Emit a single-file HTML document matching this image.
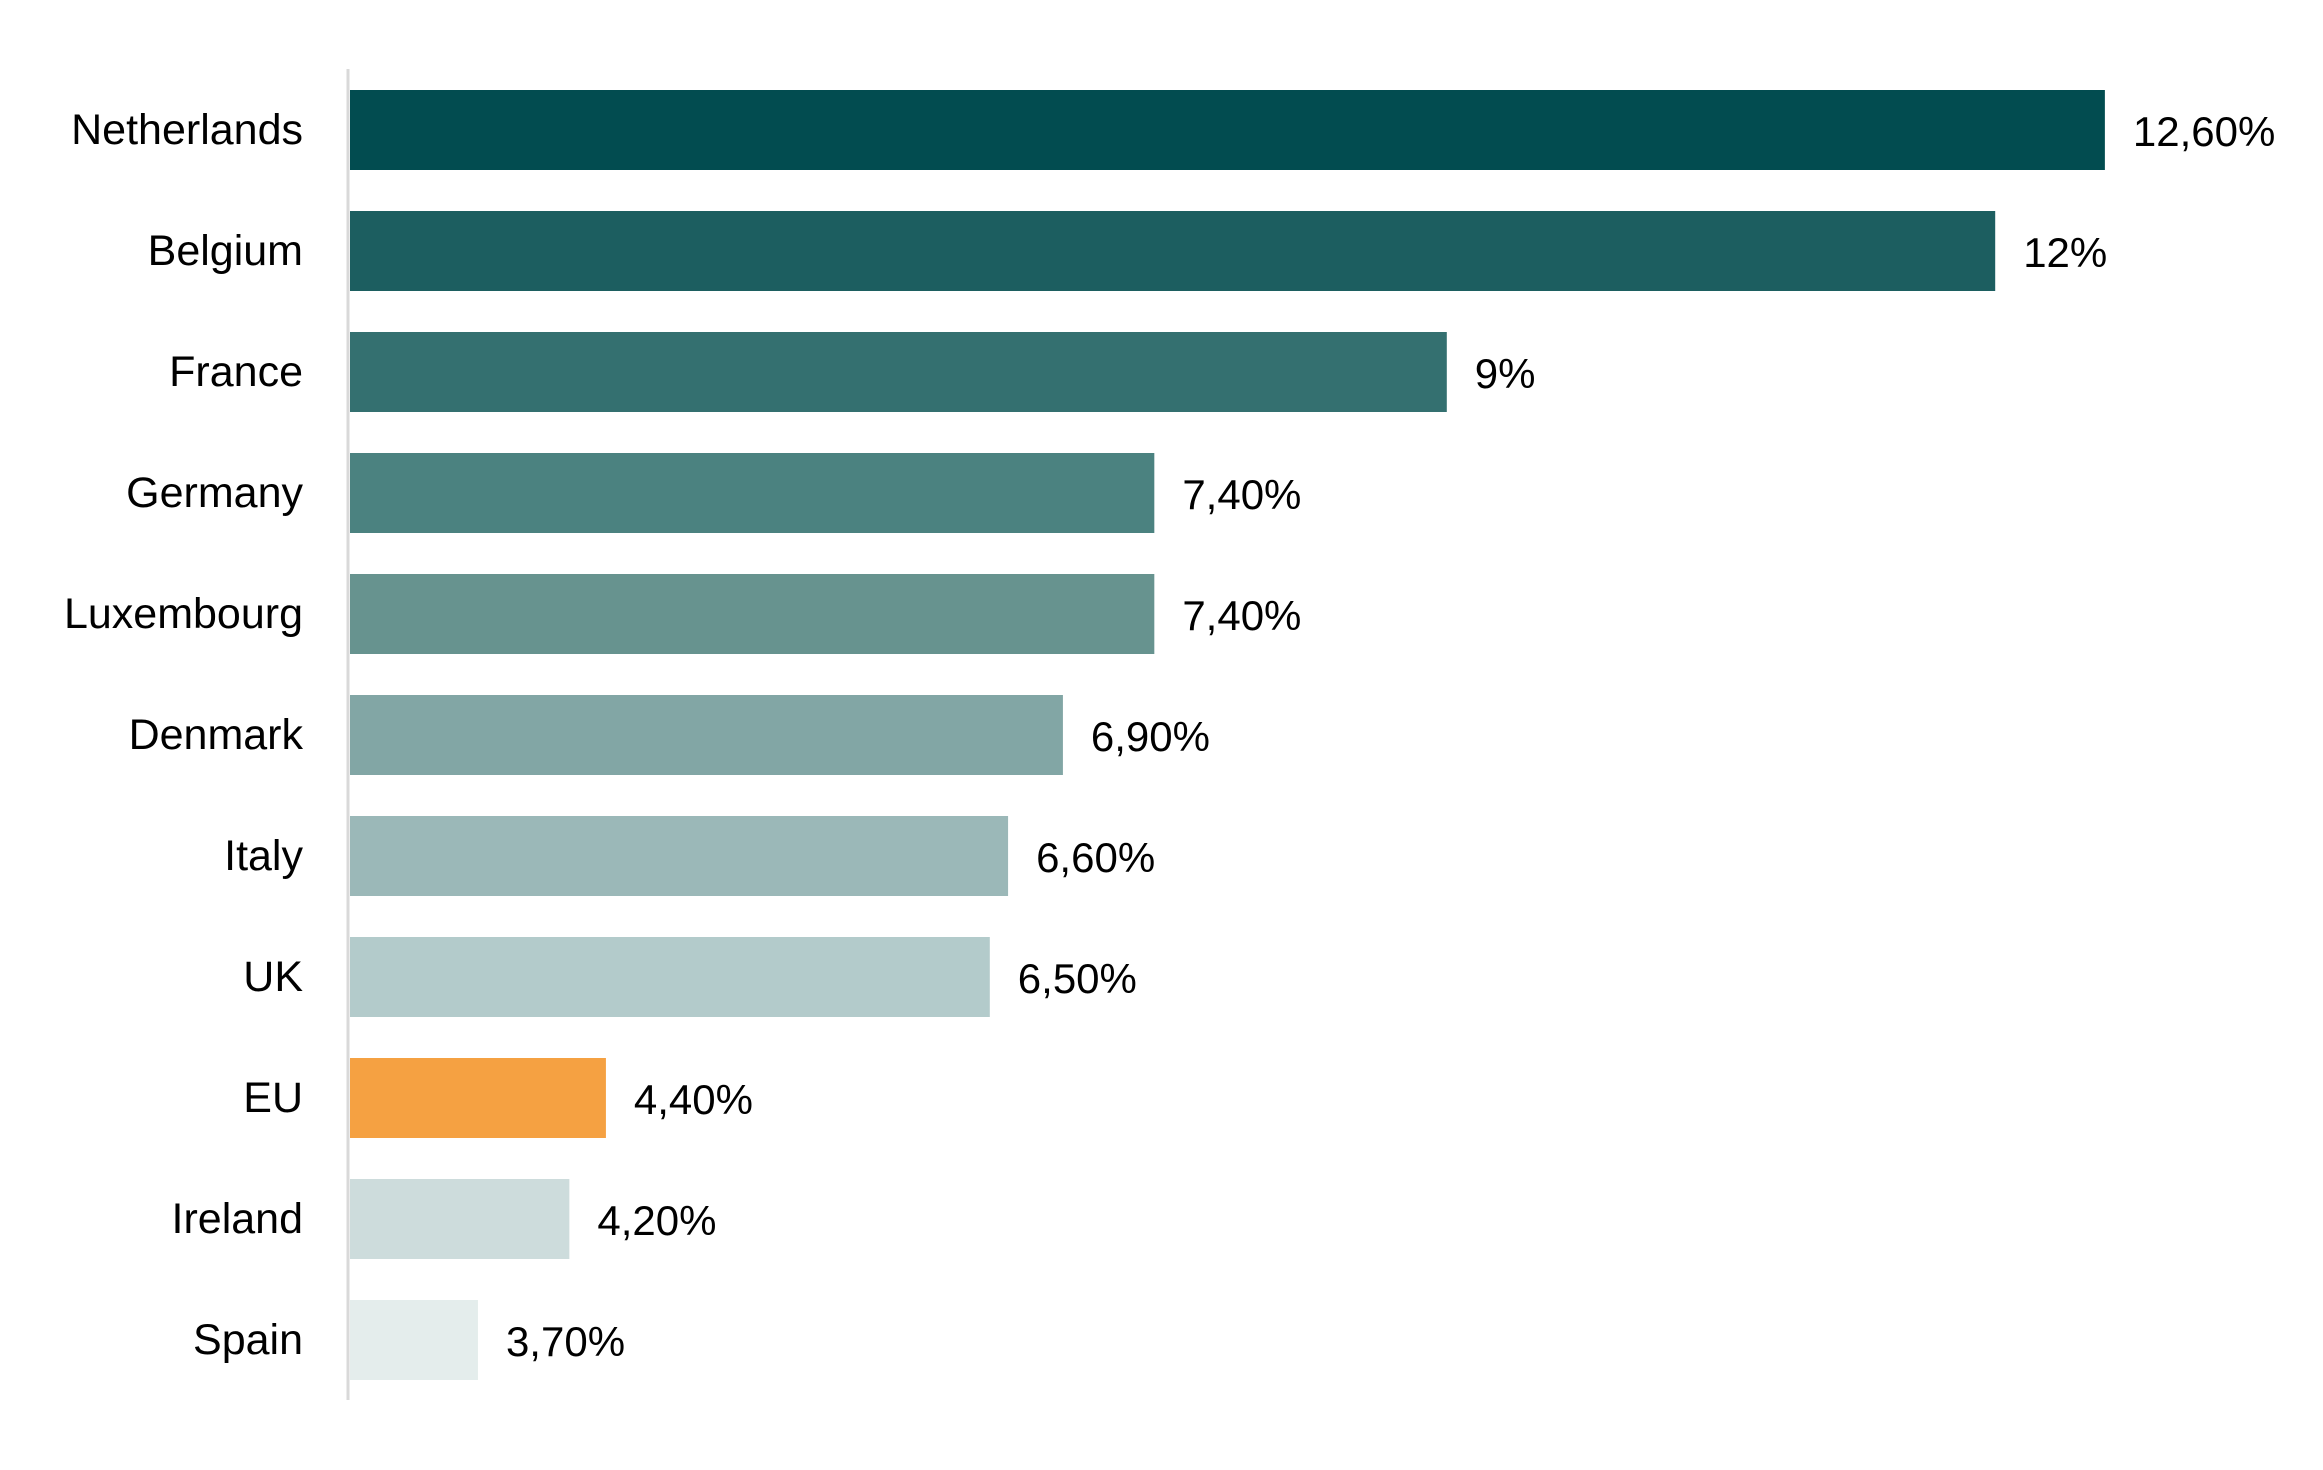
<!DOCTYPE html>
<html><head><meta charset="utf-8"><style>
html,body{margin:0;padding:0;background:#fff;}
svg{display:block;}
text{font-family:"Liberation Sans",sans-serif;fill:#000;}
</style></head><body>
<svg id="chart" width="2323" height="1470" viewBox="0 0 2323 1470" xmlns="http://www.w3.org/2000/svg">
<line x1="348" y1="69" x2="348" y2="1400" stroke="#d9d9d9" stroke-width="3"/>
<g id="bars"></g>
</svg>
<script>
const categories = ["Netherlands","Belgium","France","Germany","Luxembourg","Denmark","Italy","UK","EU","Ireland","Spain"];
const values = [12.6,12,9,7.4,7.4,6.9,6.6,6.5,4.4,4.2,3.7];
const valueLabels = ["12,60%","12%","9%","7,40%","7,40%","6,90%","6,60%","6,50%","4,40%","4,20%","3,70%"];
const colors = ["#024c50","#1c5e60","#347070","#4b8280","#67938f","#82a6a5","#9bb8b8","#b3cbcb","#f5a142","#cddcdc","#e4edec"];
const xMin = 3, xPerUnit = 182.8, x0 = 350;
function xScale(v){ return x0 + (v - xMin) * xPerUnit; }
function yScale(i){ return 90 + i * 121.0; }
const barH = 80;
const g = document.getElementById('bars');
const NS = "http://www.w3.org/2000/svg";
categories.forEach((c, i) => {
  const y = yScale(i);
  const r = document.createElementNS(NS, 'rect');
  r.setAttribute('x', x0);
  r.setAttribute('y', y);
  r.setAttribute('width', xScale(values[i]) - x0);
  r.setAttribute('height', barH);
  r.setAttribute('fill', colors[i]);
  
  
  g.appendChild(r);
  const t = document.createElementNS(NS, 'text');
  t.setAttribute('x', 303);
  t.setAttribute('y', y + barH / 2 + 14);
  t.setAttribute('text-anchor', 'end');
  t.setAttribute('font-size', '43');
  t.textContent = c;
  
  
  g.appendChild(t);
  const v = document.createElementNS(NS, 'text');
  v.setAttribute('x', xScale(values[i]) + 28);
  v.setAttribute('y', y + barH / 2 + 16);
  v.setAttribute('font-size', '42');
  v.textContent = valueLabels[i];
  
  
  g.appendChild(v);
});
</script>
</body></html>
